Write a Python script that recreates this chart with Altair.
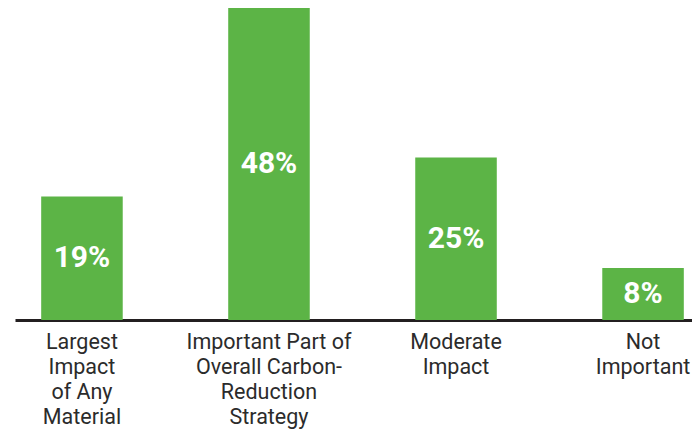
import altair as alt
import pandas as pd

categories = [
    "Largest|Impact|of Any|Material",
    "Important Part of|Overall Carbon-|Reduction|Strategy",
    "Moderate|Impact",
    "Not|Important",
]
values = [19, 48, 25, 8]
value_labels = ["19%", "48%", "25%", "8%"]

df = pd.DataFrame({"cat": categories, "value": values, "label": value_labels})

GREEN = "#5cb446"

x_enc = alt.X(
    "cat:N",
    sort=None,
    title=None,
    scale=alt.Scale(range=[0, 695], paddingInner=0.564, paddingOuter=0.14),
    axis=alt.Axis(
        labelExpr="split(datum.label, '|')",
        labelAngle=0,
        ticks=False,
        domainColor="#231f20",
        domainWidth=3,
        labelFont="Roboto",
        labelFontSize=21.5,
        labelColor="#2b2b2b",
        labelLineHeight=25,
        labelPadding=11,
        labelBaseline="top",
        labelLimit=0,
    ),
)

y_scale = alt.Scale(domain=[0, 48], nice=False, zero=True)

bars = alt.Chart(df).mark_bar(color=GREEN).encode(
    x=x_enc,
    y=alt.Y("value:Q", scale=y_scale, axis=None),
)

texts = alt.Chart(df).transform_calculate(mid="datum.value / 2").mark_text(
    color="white",
    font="Roboto",
    fontWeight="bold",
    fontSize=30,
    baseline="middle",
    align="center",
).encode(
    x=alt.X("cat:N", sort=None),
    y=alt.Y("mid:Q", scale=y_scale),
    text="label:N",
)

chart = (
    alt.layer(bars, texts)
    .properties(
        width=677,
        height=312,
        autosize=alt.AutoSizeParams(type="none"),
        padding={"left": 7, "top": 0, "right": 0, "bottom": 109},
    )
    .configure_view(stroke=None)
    .configure_axis(grid=False)
)

chart.save("out.html", embed_options={"renderer": "svg", "actions": False})
